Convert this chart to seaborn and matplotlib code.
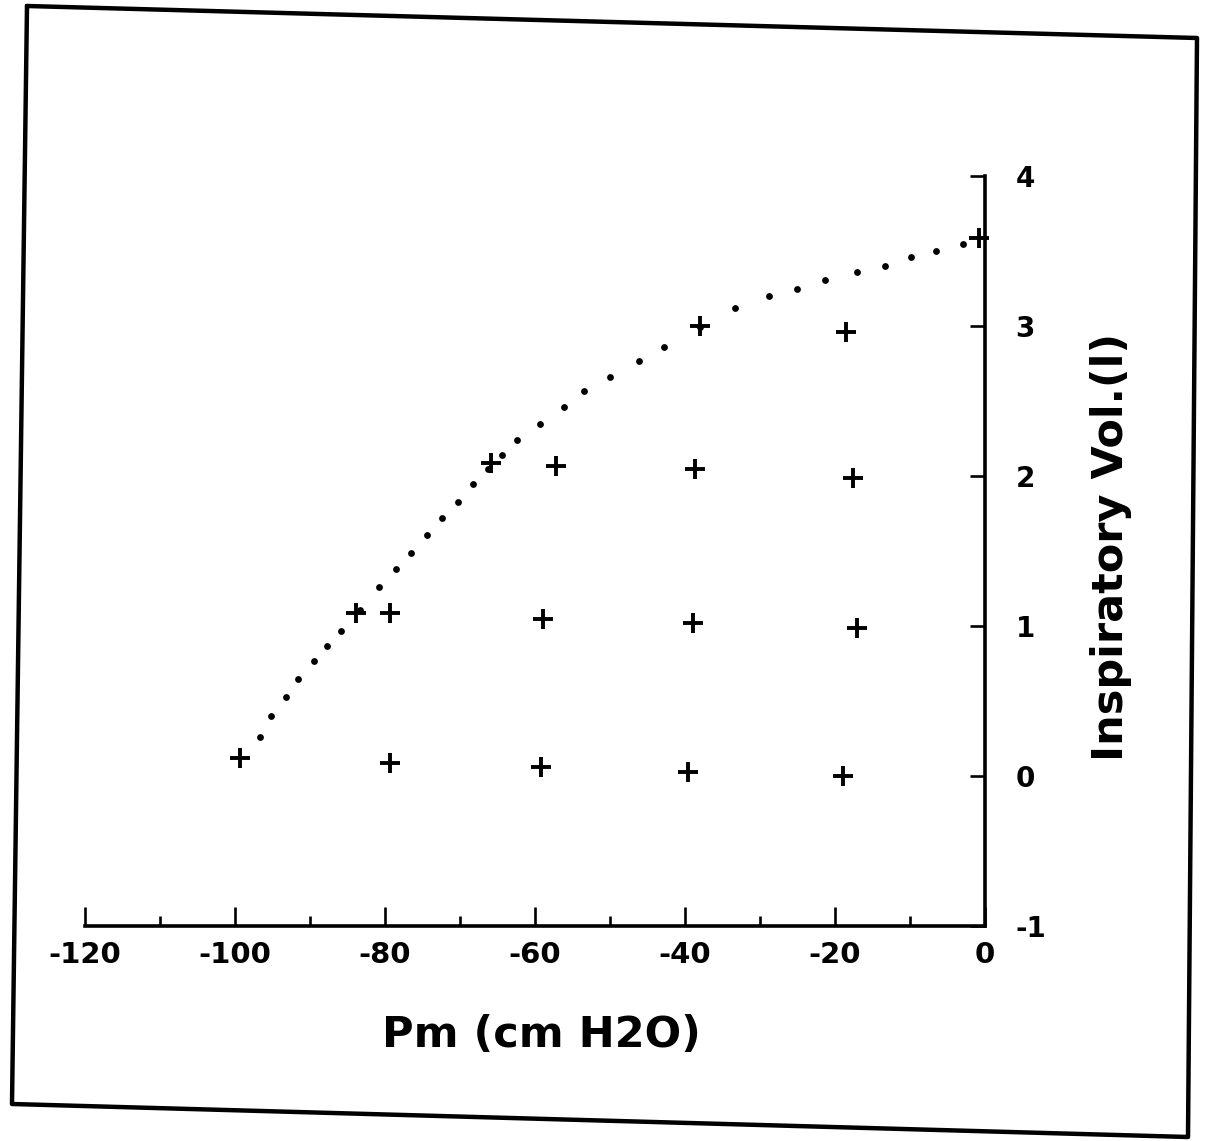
import matplotlib
matplotlib.use("Agg")
import matplotlib.pyplot as plt
from matplotlib.lines import Line2D
from matplotlib.ticker import FixedLocator, MultipleLocator
import pandas as pd
import seaborn as sns

# Measured points: mouth pressure (cm H2O) vs inspiratory volume (l)
pm_points = [-99.3, -79.3, -59.2, -39.6, -18.9,
             -83.9, -79.3, -58.9, -38.9, -17.1,
             -65.9, -57.2, -38.7, -17.6,
             -38.0, -18.5,
             -0.8]
vol_points = [0.12, 0.09, 0.06, 0.03, 0.00,
              1.09, 1.09, 1.05, 1.02, 0.99,
              2.09, 2.07, 2.05, 1.99,
              3.00, 2.96,
              3.59]

# Dotted maximal-pressure curve
pm_curve = [-96.7, -95.2, -93.2, -91.6, -89.5, -87.7, -85.9, -83.3, -80.8, -78.5,
            -76.5, -74.4, -72.4, -70.3, -68.3, -66.3, -64.4, -62.4, -59.3, -56.1,
            -53.5, -50.0, -46.1, -42.8, -38.0, -33.3, -28.8, -25.1, -21.3, -17.1,
            -13.3, -9.9, -6.5, -2.9]
vol_curve = [0.26, 0.40, 0.53, 0.65, 0.77, 0.87, 0.97, 1.11, 1.26, 1.38,
             1.49, 1.61, 1.72, 1.83, 1.95, 2.05, 2.14, 2.24, 2.35, 2.46,
             2.57, 2.66, 2.77, 2.86, 2.99, 3.12, 3.20, 3.25, 3.31, 3.36,
             3.40, 3.46, 3.50, 3.55]

x_ticks = [-120, -100, -80, -60, -40, -20, 0]
x_tick_labels = ["-120", "-100", "-80", "-60", "-40", "-20", "0"]
y_ticks = [-1, 0, 1, 2, 3, 4]
y_tick_labels = ["-1", "0", "1", "2", "3", "4"]

points = pd.DataFrame({"Pm": pm_points, "Vol": vol_points})
curve = pd.DataFrame({"Pm": pm_curve, "Vol": vol_curve})

sns.set_theme(style="white")
plt.rcParams["font.family"] = ["DejaVu Sans"]

W, H = 1213, 1141
fig = plt.figure(figsize=(W / 100, H / 100), dpi=100)
fig.patch.set_facecolor("white")
ax = fig.add_axes([85 / W, 1 - 926 / H, 900 / W, 750 / H])
ax.set_facecolor("white")

sns.scatterplot(data=curve, x="Pm", y="Vol", marker="o", s=24, color="black",
                linewidth=0, ax=ax, clip_on=False, zorder=3)
sns.scatterplot(data=points, x="Pm", y="Vol", marker="+", s=220, color="black",
                linewidth=2.8, ax=ax, clip_on=False, zorder=4)

ax.set_xlim(-120, 0)
ax.set_ylim(-1, 4)

for side in ("left", "top"):
    ax.spines[side].set_visible(False)
for side in ("bottom", "right"):
    ax.spines[side].set_visible(True)
    ax.spines[side].set_color("black")
    ax.spines[side].set_linewidth(2.6)

ax.xaxis.set_major_locator(FixedLocator(x_ticks))
ax.xaxis.set_minor_locator(MultipleLocator(10))
ax.set_xticklabels(x_tick_labels)
ax.yaxis.tick_right()
ax.yaxis.set_major_locator(FixedLocator(y_ticks))
ax.set_yticklabels(y_tick_labels)

ax.tick_params(axis="x", which="major", direction="in", length=14, width=1.9,
               color="black", bottom=True, top=False, pad=11,
               labelsize=21, labelcolor="black")
ax.tick_params(axis="x", which="minor", direction="in", length=7, width=1.9,
               color="black", bottom=True, top=False)
ax.tick_params(axis="y", which="major", direction="in", length=11, width=1.9,
               color="black", right=True, left=False, pad=22,
               labelsize=20, labelcolor="black")
for lab in ax.get_xticklabels() + ax.get_yticklabels():
    lab.set_fontweight("bold")

ax.set_xlabel("Pm (cm H2O)", fontsize=31, fontweight="bold", color="black")
ax.xaxis.set_label_coords(0.507, -0.145)
ax.xaxis.label.set(va="center", ha="center")

ax.yaxis.set_label_position("right")
ax.set_ylabel("Inspiratory Vol.(l)", fontsize=31, fontweight="bold",
              color="black", rotation=90)
ax.yaxis.set_label_coords(1.14, 0.505)
ax.yaxis.label.set(va="center", ha="center", rotation_mode="anchor")

# Outer border of the sheet
corners = [(27, 6), (1197, 38), (1188, 1137), (12, 1104), (27, 6)]
fig.add_artist(Line2D([c[0] / W for c in corners], [1 - c[1] / H for c in corners],
                      transform=fig.transFigure, color="black", linewidth=3.2))

fig.savefig("out.png", dpi=100, facecolor="white")
